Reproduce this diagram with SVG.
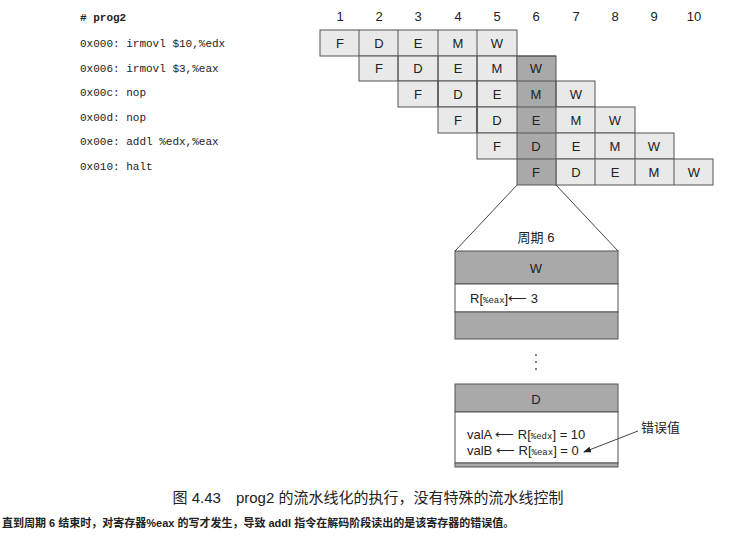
<svg xmlns="http://www.w3.org/2000/svg" width="737" height="538" viewBox="0 0 737 538">
<style>
.c{fill:#e9e9e9;stroke:#555;stroke-width:1}
.h{fill:#a9a9a9;stroke:#555;stroke-width:1}
.t{font-family:"Liberation Sans",sans-serif;font-size:13px;text-anchor:middle;fill:#222}
.m{font-family:"Liberation Mono",monospace;font-size:11px;fill:#222}
.k{font-family:"Liberation Sans","Noto Sans CJK SC",sans-serif;fill:#222}
</style>
<defs><marker id="a" markerWidth="8" markerHeight="8" refX="7" refY="4" orient="auto"><path d="M0,1 L8,4 L0,7Z" fill="#222"/></marker></defs>
<rect width="737" height="538" fill="#fff"/>
<g id="code">
<text class="m" x="80" y="21" font-weight="bold"># prog2</text>
<text class="m" x="80" y="47">0x000: irmovl $10,%edx</text>
<text class="m" x="80" y="72">0x006: irmovl  $3,%eax</text>
<text class="m" x="80" y="96">0x00c: nop</text>
<text class="m" x="80" y="121">0x00d: nop</text>
<text class="m" x="80" y="145">0x00e: addl %edx,%eax</text>
<text class="m" x="80" y="170">0x010: halt</text>
</g>
<g id="headers" class="t" font-size="12">
<text x="340" y="21">1</text><text x="379" y="21">2</text><text x="418" y="21">3</text><text x="458" y="21">4</text><text x="497" y="21">5</text><text x="536" y="21">6</text><text x="576" y="21">7</text><text x="615" y="21">8</text><text x="654" y="21">9</text><text x="694" y="21">10</text>
</g>
<g id="pipeline">
<rect class="c" x="320" y="30" width="197" height="26"/>
<rect class="c" x="359" y="56" width="158" height="25"/>
<rect class="c" x="398" y="81" width="197" height="26"/>
<rect class="c" x="438" y="107" width="197" height="26"/>
<rect class="c" x="477" y="133" width="197" height="26"/>
<rect class="c" x="556" y="159" width="157" height="26"/>
<rect class="h" x="517" y="56" width="39" height="129"/>
<g stroke="#555" stroke-width="1">
<path d="M359,30V56M398,30V81M438,30V107M477,30V133"/>
<path d="M398,56V81M438,56V107M477,56V133"/>
<path d="M438,81V107M477,81V133M556,81V107"/>
<path d="M477,107V133M595,107V133"/>
<path d="M595,133V159M635,133V159"/>
<path d="M517,56H556M517,81H556M517,107H556M517,133H556M517,159H556"/>
<path d="M595,159V185M635,159V185M674,159V185"/>
</g>
<g class="t">
<text x="340" y="48">F</text><text x="379" y="48">D</text><text x="418" y="48">E</text><text x="458" y="48">M</text><text x="497" y="48">W</text>
<text x="379" y="73">F</text><text x="418" y="73">D</text><text x="458" y="73">E</text><text x="497" y="73">M</text><text x="536" y="73">W</text>
<text x="418" y="99">F</text><text x="458" y="99">D</text><text x="497" y="99">E</text><text x="536" y="99">M</text><text x="576" y="99">W</text>
<text x="458" y="125">F</text><text x="497" y="125">D</text><text x="536" y="125">E</text><text x="576" y="125">M</text><text x="615" y="125">W</text>
<text x="497" y="151">F</text><text x="536" y="151">D</text><text x="576" y="151">E</text><text x="615" y="151">M</text><text x="654" y="151">W</text>
<text x="536" y="177">F</text><text x="576" y="177">D</text><text x="615" y="177">E</text><text x="654" y="177">M</text><text x="694" y="177">W</text>
</g>
</g>
<g id="cycle6">
<text class="k" x="536" y="242" font-size="13" text-anchor="middle">周期 6</text>
<rect class="h" x="455" y="251" width="163" height="33"/>
<rect x="455" y="284" width="163" height="28" fill="#fff" stroke="#555"/>
<rect class="h" x="455" y="312" width="163" height="27"/>
<text class="t" x="536" y="273">W</text>
<text class="k" x="470" y="303" font-size="13">R[<tspan font-family="Liberation Mono" font-size="9">%eax</tspan>]⟵ 3</text>
<g fill="#444"><circle cx="536" cy="355" r="0.9"/><circle cx="536" cy="362" r="0.9"/><circle cx="536" cy="369" r="0.9"/></g>
<rect class="h" x="455" y="384" width="163" height="28"/>
<rect x="455" y="412" width="163" height="51" fill="#fff" stroke="#555"/>
<rect class="h" x="455" y="463" width="163" height="4"/>
<text class="t" x="536" y="404">D</text>
<text class="k" x="467" y="439" font-size="13">valA ⟵ R[<tspan font-family="Liberation Mono" font-size="9">%edx</tspan>] = 10</text>
<text class="k" x="467" y="455" font-size="13">valB ⟵ R[<tspan font-family="Liberation Mono" font-size="9">%eax</tspan>] = 0</text>
<text class="k" x="641" y="432" font-size="13">错误值</text>
</g>
<g id="connectors" stroke="#444" fill="none">
<path d="M517,185L455,251M556,185L618,251"/>
<path d="M638,431L584,452" marker-end="url(#a)"/>
</g>
<g id="caption">
<text class="k" x="368" y="503" font-size="15" text-anchor="middle">图 4.43　prog2 的流水线化的执行，没有特殊的流水线控制</text>
<text class="k" x="2" y="527" font-size="11" font-weight="bold">直到周期 6 结束时，对寄存器%eax 的写才发生，导致 addl 指令在解码阶段读出的是该寄存器的错误值。</text>
</g>
</svg>
